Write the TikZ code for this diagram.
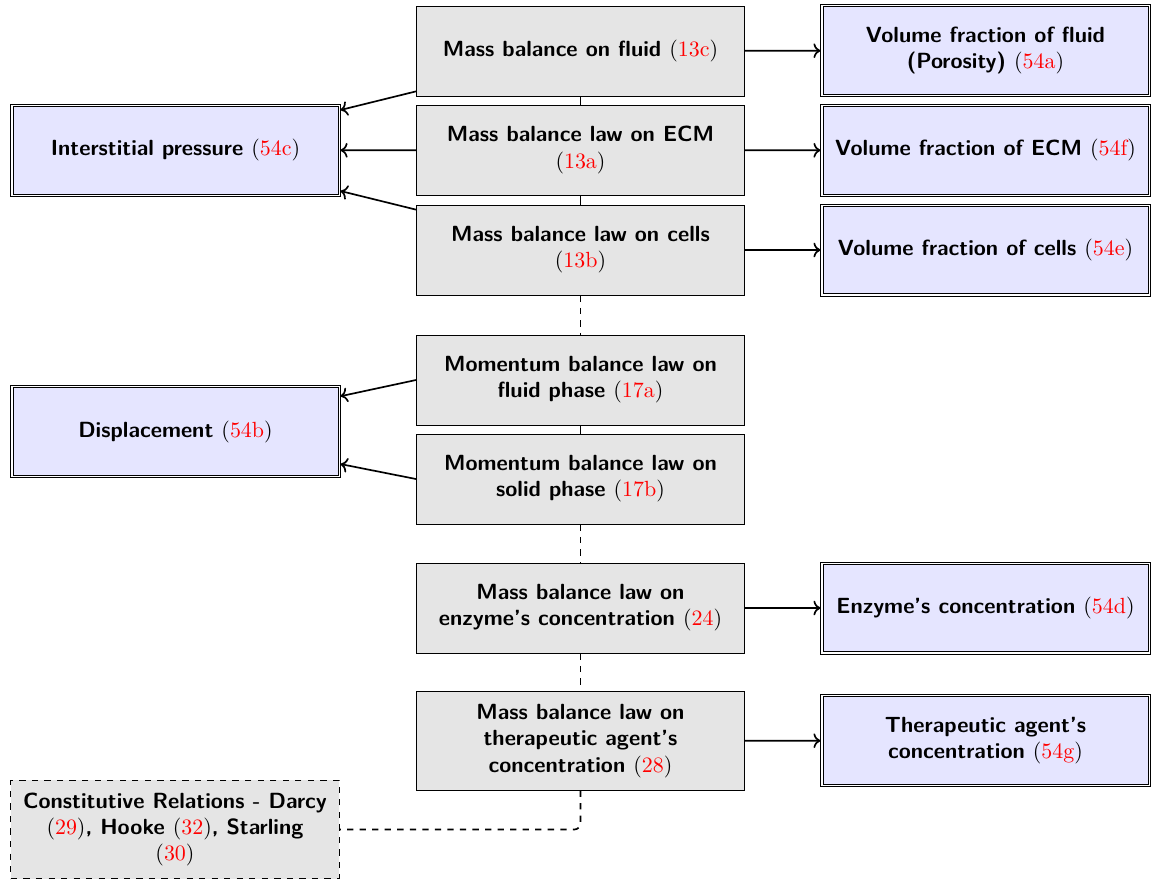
\documentclass[tikz,border=0pt]{standalone}
\usetikzlibrary{arrows.meta,positioning}
\newcommand{\eqr}[1]{\textnormal{(\textcolor{red}{#1})}}
\newcommand{\boxfont}{\fontsize{10.5}{12.5}\selectfont\sffamily\bfseries}
\tikzset{
  eqbox/.style={draw, fill=gray!20, minimum width=157pt, minimum height=43pt, align=center, font=\boxfont, inner sep=2pt},
  varbox/.style={draw, fill=blue!10, minimum width=155.5pt, minimum height=42pt, align=center, font=\boxfont, inner sep=2pt, outer sep=1.2pt,
    append after command={\pgfextra{\draw ([shift={(0.2pt,0.2pt)}]\tikzlastnode.south west) rectangle ([shift={(-0.2pt,-0.2pt)}]\tikzlastnode.north east);}}},
  relbox/.style={draw, dashed, fill=gray!20, minimum width=157pt, minimum height=47pt, align=center, font=\boxfont, inner sep=2pt},
  link/.style={thick},
  dlink/.style={thick, dashed},
  arr/.style={thick, ->},
}
\begin{document}
\begin{tikzpicture}[x=0.4784pt, y=-0.4784pt]
\useasboundingbox (0,0) rectangle (1151,879);
% central equations
\node[eqbox] (b1) at (580.5,51) {Mass balance on fluid \eqr{13c}};
\node[eqbox] (b2) at (580.5,150) {Mass balance law on ECM\\\eqr{13a}};
\node[eqbox] (b3) at (580.5,250) {Mass balance law on cells\\\eqr{13b}};
\node[eqbox] (b4) at (580.5,380) {Momentum balance law on\\fluid phase \eqr{17a}};
\node[eqbox] (b5) at (580.5,479) {Momentum balance law on\\solid phase \eqr{17b}};
\node[eqbox] (b6) at (580.5,608) {Mass balance law on\\enzyme's concentration \eqr{24}};
\node[eqbox, minimum height=47pt] (b7) at (580.5,741) {Mass balance law on\\therapeutic agent's\\concentration \eqr{28}};
% variables
\node[varbox] (r1) at (985.5,50.5) {Volume fraction of fluid\\(Porosity) \eqr{54a}};
\node[varbox] (r2) at (985.5,150.5) {Volume fraction of ECM \eqr{54f}};
\node[varbox] (r3) at (985.5,250) {Volume fraction of cells \eqr{54e}};
\node[varbox] (r6) at (985.5,608) {Enzyme's concentration \eqr{54d}};
\node[varbox] (r7) at (985.5,740.5) {Therapeutic agent's\\concentration \eqr{54g}};
\node[varbox] (lp) at (175.5,150.5) {Interstitial pressure \eqr{54c}};
\node[varbox] (ld) at (175.5,431.5) {Displacement \eqr{54b}};
% constitutive relations
\node[relbox] (cr) at (175,829.5) {Constitutive Relations - Darcy\\\eqr{29}, Hooke \eqr{32}, Starling\\\eqr{30}};
% vertical chain
\draw[link] (b1) -- (b2);
\draw[link] (b2) -- (b3);
\draw[dlink] (b3) -- (b4);
\draw[link] (b4) -- (b5);
\draw[dlink] (b5) -- (b6);
\draw[dlink] (b6) -- (b7);
\draw[dlink, rounded corners=3pt] (b7.south) |- (cr.east);
% arrows right
\draw[arr] (b1) -- (r1);
\draw[arr] (b2) -- (r2);
\draw[arr] (b3) -- (r3);
\draw[arr] (b6) -- (r6);
\draw[arr] (b7) -- (r7);
% arrows left
\draw[arr] (b1) -- (lp);
\draw[arr] (b2) -- (lp);
\draw[arr] (b3) -- (lp);
\draw[arr] (b4.west) -- (ld);
\draw[arr] (b5.west) -- (ld);
\end{tikzpicture}
\end{document}
